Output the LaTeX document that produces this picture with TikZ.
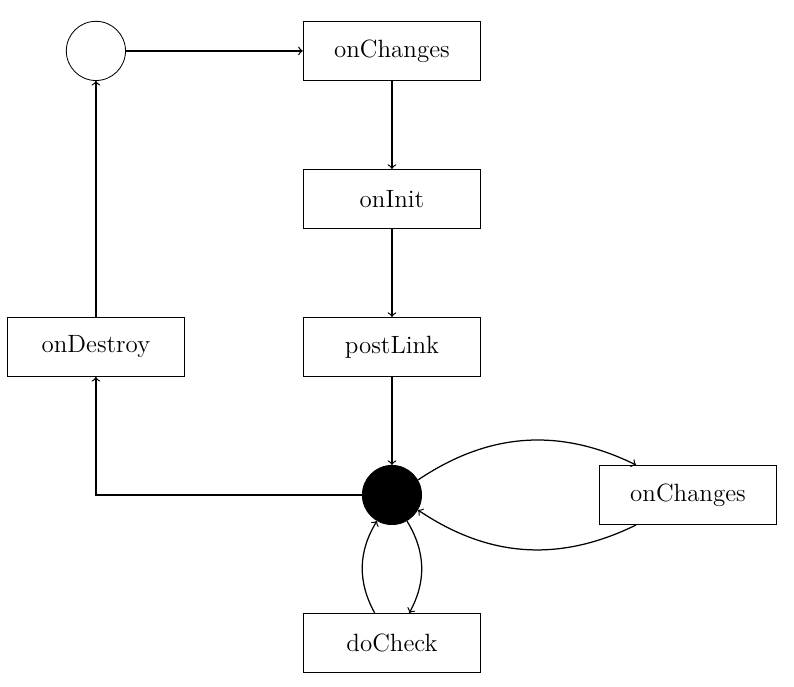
\documentclass[tikz,border=0pt]{standalone}
\usetikzlibrary{positioning}
\begin{document}
\begin{tikzpicture}[->,node distance=2.5cm,semithick,
	box node/.style={rectangle,draw,thin,minimum width=3cm,minimum height=1cm,font=\large},
	state node/.style={circle,draw,thin,minimum size=1cm}]
	\useasboundingbox (-6.62,-3.24) rectangle (6.79,8.36);
	
	\node[state node] (1) at (-5,7.5) {};
	\node[box node] (2) at (0,7.5) {onChanges};
	\node[box node] (3) [below of=2] {onInit};
	\node[box node] (4) [below of=3] {postLink};
	\node[state node, fill] (5) [below of=4] {};
	\node[box node] (6) [below of=5] {doCheck};
	\node[box node] (7) at (5,0) {onChanges};
	\node[box node] (8) at (-5,2.5) {onDestroy};
	
	\path
	(1) edge (2)
	(2) edge (3)
	(3) edge (4)
	(4) edge (5)
	(5) edge [bend left] (7)
	edge [bend left] (6)
	(7) edge [bend left] (5)
	(6) edge [bend left] (5)
	(8) edge (1);
	\draw (5) -| (8);
\end{tikzpicture}
\end{document}
